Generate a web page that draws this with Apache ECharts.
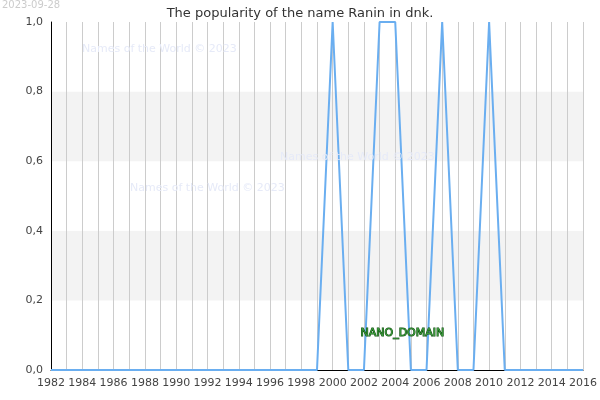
<!DOCTYPE html>
<html><head><meta charset="utf-8">
<script src="https://cdn.jsdelivr.net/npm/echarts@6/dist/echarts.min.js"></script>
<style>html,body{margin:0;padding:0;background:#fff}#c{width:600px;height:400px}</style>
</head><body><div id="c"></div>
<script>
const years = [];
for (let y = 1982; y <= 2016; y++) years.push(y);
const peakYears = [2000, 2003, 2004, 2007, 2010];
const values = years.map(y => peakYears.includes(y) ? 1 : 0);
const yTicks = [0, 0.2, 0.4, 0.6, 0.8, 1.0];

const chart = echarts.init(document.getElementById('c'));
const F = 'DejaVu Sans';
chart.setOption({
  animation: false,
  title: { text: 'The popularity of the name Ranin in dnk.', left: 'center', top: 2,
    textStyle: { fontFamily: F, fontSize: 13, fontWeight: 'normal', color: '#333' } },
  graphic: [
    { type: 'text', z: 100, left: 2, top: 0, style: { text: '2023-09-28', fontFamily: F, fontSize: 10, fill: '#ccc' } },
    { type: 'text', z: 100, left: 82, top: 44, style: { text: 'Names of the World © 2023', fontFamily: F, fontSize: 11, fill: '#e6eaf8' } },
    { type: 'text', z: 100, left: 280, top: 152, style: { text: 'Names of the World © 2023', fontFamily: F, fontSize: 11, fill: '#e6eaf8' } },
    { type: 'text', z: 100, left: 130, top: 183, style: { text: 'Names of the World © 2023', fontFamily: F, fontSize: 11, fill: '#e6eaf8' } },
    { type: 'text', z: 100, left: 360, top: 327, style: { text: 'NANO_DOMAIN', fontFamily: F, fontSize: 11, fill: '#3c9a3c', stroke: '#0a4a0a', lineWidth: 1 } }
  ],
  grid: { left: 51, right: 11, top: 22, bottom: 30 },
  xAxis: {
    type: 'value', min: 1982, max: 2016, interval: 1,
    axisLine: { show: true, lineStyle: { color: '#000' } },
    axisTick: { show: false },
    axisLabel: { fontFamily: F, fontSize: 11, color: '#444',
      formatter: v => (v % 2 === 0 ? String(v) : '') },
    splitLine: { show: true, lineStyle: { color: '#ccc' } }
  },
  yAxis: {
    type: 'value', min: 0, max: 1, interval: 0.2,
    axisLine: { show: true, lineStyle: { color: '#000' } },
    axisTick: { show: false },
    axisLabel: { fontFamily: F, fontSize: 11, color: '#444',
      formatter: v => v.toFixed(1).replace('.', ',') },
    splitLine: { show: false },
    splitArea: { show: true, areaStyle: { color: ['#ffffff', '#f3f3f3'] } }
  },
  series: [{
    type: 'line', data: years.map((y, i) => [y, values[i]]),
    symbol: 'none', lineStyle: { color: '#6aaef0', width: 2 }
  }]
});
</script></body></html>
